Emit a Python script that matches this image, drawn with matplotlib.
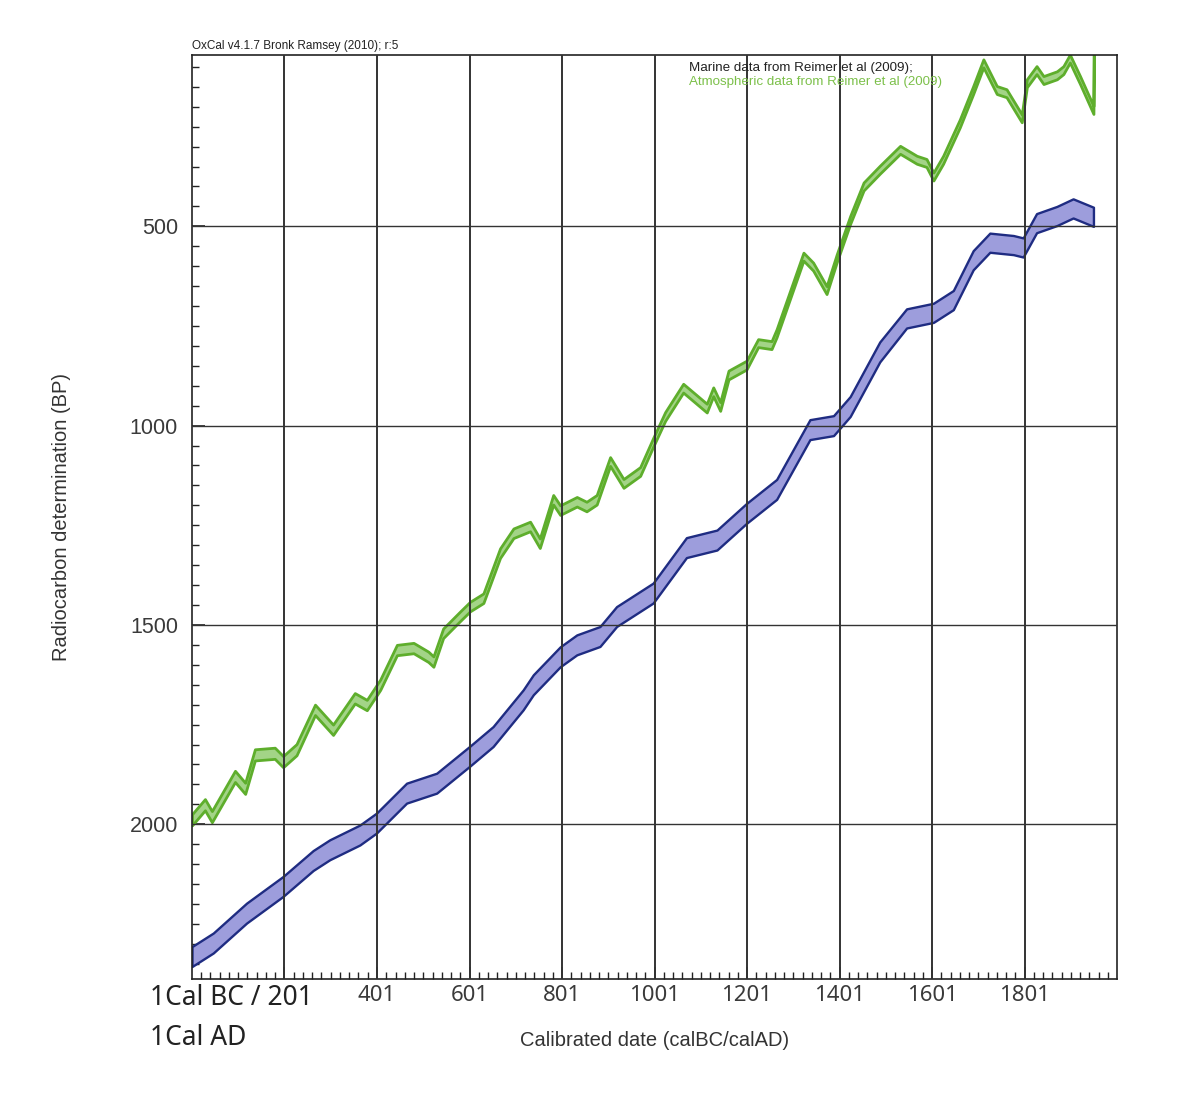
import matplotlib

matplotlib.use("Agg")
import matplotlib.pyplot as plt
from matplotlib.ticker import FixedLocator, MultipleLocator
import numpy as np


# IntCal09 atmospheric curve (cal AD, 14C age BP, 1-sigma)
atmos_year = [1, 29, 44, 94, 116, 137, 180, 198, 227, 267, 306, 353, 379, 408,
              444, 480, 512, 523, 544, 580, 602, 631, 667, 696, 732, 753, 782,
              797, 833, 854, 876, 905, 934, 970, 998, 1024, 1063, 1114, 1128,
              1143, 1161, 1200, 1225, 1254, 1265, 1323, 1344, 1373, 1395, 1424,
              1453, 1488, 1532, 1568, 1589, 1604, 1625, 1661, 1690, 1712, 1741,
              1762, 1784, 1795, 1806, 1827, 1842, 1871, 1885, 1899, 1921, 1950,
              1951]
atmos_bp = [1989, 1951, 1981, 1880, 1910, 1826, 1822, 1843, 1813, 1713, 1763,
            1684, 1701, 1650, 1563, 1558, 1580, 1592, 1521, 1479, 1454, 1433,
            1320, 1270, 1253, 1295, 1186, 1212, 1191, 1203, 1186, 1090, 1145,
            1115, 1042, 977, 906, 956, 915, 952, 873, 848, 793, 798, 768, 576,
            601, 660, 580, 484, 400, 358, 308, 333, 341, 375, 333, 242, 158, 91,
            158, 166, 208, 229, 141, 108, 133, 121, 108, 79, 133, 208, 0]
atmos_err = [14, 14, 14, 14, 14, 14, 14, 14, 14, 13, 13, 13, 13, 13,
             13, 13, 13, 13, 12, 12, 12, 12, 12, 12, 12, 12, 12,
             12, 12, 12, 12, 11, 11, 11, 11, 11, 11, 11, 11,
             11, 11, 11, 10, 10, 10, 10, 10, 10, 10, 10,
             10, 10, 10, 10, 10, 10, 10, 10, 10, 10, 10,
             10, 10, 10, 10, 10, 10, 10, 10, 10, 10, 10,
             10]

# Marine09 curve (cal AD, 14C age BP, 1-sigma)
marine_year = [1, 47, 119, 198, 263, 299, 364, 400, 465, 530, 602, 652, 717,
               739, 797, 833, 883, 919, 998, 1070, 1136, 1200, 1265, 1337,
               1388, 1424, 1488, 1546, 1604, 1647, 1690, 1726, 1777, 1798,
               1827, 1871, 1906, 1950]
marine_bp = [2332, 2298, 2223, 2156, 2091, 2064, 2027, 1997, 1922, 1897, 1829,
             1780, 1688, 1650, 1580, 1550, 1529, 1479, 1420, 1306, 1287, 1220,
             1160, 1010, 1000, 952, 815, 731, 717, 685, 585, 541, 547, 553,
             492, 474, 455, 476]
marine_err = [25, 25, 25, 25, 25, 25, 25, 25, 25, 25, 25, 25, 25,
              25, 25, 25, 25, 25, 25, 25, 25, 25, 25, 25,
              25, 25, 25, 24, 24, 24, 24, 24, 24, 24,
              24, 24, 24, 24]

x_ticks = [201, 401, 601, 801, 1001, 1201, 1401, 1601, 1801]
x_tick_labels = ["", "401", "601", "801", "1001", "1201", "1401", "1601", "1801"]
y_ticks = [500, 1000, 1500, 2000]

ATMOS_FILL = "#a3d487"
ATMOS_EDGE = "#5eae2c"
MARINE_FILL = "#9d9ddc"
MARINE_EDGE = "#1f2c82"
GRID_COLOR = "#333333"


def draw_band(ax, year, bp, err, face, edge, lw):
    year = np.asarray(year, dtype=float)
    bp = np.asarray(bp, dtype=float)
    err = np.asarray(err, dtype=float)
    ax.fill_between(year, bp - err, bp + err, facecolor=face,
                    edgecolor=edge, linewidth=lw, zorder=2)


fig = plt.figure(figsize=(11.91, 11.17), dpi=100)
ax = fig.add_axes([0.1612, 0.1233, 0.7767, 0.8275])

draw_band(ax, marine_year, marine_bp, marine_err, MARINE_FILL, MARINE_EDGE, 1.7)
draw_band(ax, atmos_year, atmos_bp, atmos_err, ATMOS_FILL, ATMOS_EDGE, 2.0)

ax.set_xlim(1, 2001)
ax.set_ylim(2389, 70)

for x in x_ticks:
    ax.axvline(x, color=GRID_COLOR, linewidth=1.4, zorder=3)
for y in y_ticks:
    ax.axhline(y, color=GRID_COLOR, linewidth=1.0, zorder=3)

ax.xaxis.set_major_locator(FixedLocator(x_ticks))
ax.xaxis.set_minor_locator(FixedLocator(np.arange(21, 2001, 20)))
ax.set_xticklabels(x_tick_labels, fontfamily="Noto Sans", fontsize=16,
                   color="#3a3a3a")
ax.yaxis.set_major_locator(FixedLocator(y_ticks))
ax.yaxis.set_minor_locator(MultipleLocator(50))
ax.set_yticklabels([str(v) for v in y_ticks], fontfamily="Liberation Sans",
                   fontsize=15.5, color="#3a3a3a")

ax.tick_params(which="both", direction="in", top=False, right=False,
               color="#222222")
ax.tick_params(which="major", length=9, width=1.2, pad=10)
ax.tick_params(axis="x", which="major", pad=4)
ax.tick_params(which="minor", length=5, width=1.0)
for spine in ax.spines.values():
    spine.set_linewidth(1.2)
    spine.set_color("#222222")

ax.text(0.0, 1.003, "OxCal v4.1.7 Bronk Ramsey (2010); r:5",
        transform=ax.transAxes, ha="left", va="bottom",
        fontfamily="Liberation Sans", fontsize=8.5, color="#222222")
ax.text(0.537, 0.992, "Marine data from Reimer et al (2009);",
        transform=ax.transAxes, ha="left", va="top",
        fontfamily="Liberation Sans", fontsize=9.6, color="#222222")
ax.text(0.537, 0.977, "Atmospheric data from Reimer et al (2009)",
        transform=ax.transAxes, ha="left", va="top",
        fontfamily="Liberation Sans", fontsize=9.6, color="#7cc04a")

fig.text(150 / 1191, 1 - 998 / 1117, "1Cal BC / 201", ha="left",
         va="center", fontfamily="Noto Sans", fontsize=19, color="#222222")
fig.text(150 / 1191, 1 - 1038 / 1117, "1Cal AD", ha="left", va="center",
         fontfamily="Noto Sans", fontsize=19, color="#222222")
fig.text(655 / 1191, 1 - 1040 / 1117, "Calibrated date (calBC/calAD)",
         ha="center", va="center", fontfamily="Liberation Sans", fontsize=14.5,
         color="#333333")
fig.text(62 / 1191, 1 - 517 / 1117, "Radiocarbon determination (BP)",
         ha="center", va="center", rotation=90, fontfamily="Liberation Sans",
         fontsize=14.5, color="#333333")

fig.savefig("out.png", dpi=100, facecolor="white")
